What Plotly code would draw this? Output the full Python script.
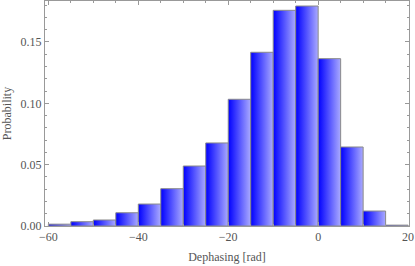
import plotly.graph_objects as go

bin_edges = [-60, -55, -50, -45, -40, -35, -30, -25, -20, -15, -10, -5, 0, 5, 10, 15, 20]
probabilities = [0.0015, 0.0035, 0.0049, 0.0108, 0.0179, 0.0304, 0.0489, 0.0677,
                 0.1033, 0.1416, 0.1758, 0.1793, 0.1364, 0.0644, 0.0122, 0.0007]
x_ticks = [-60, -40, -20, 0, 20]
x_tick_labels = ["\u221260", "\u221240", "\u221220", "0", "20"]
y_ticks = [0.0, 0.05, 0.10, 0.15]
y_tick_labels = ["0.00", "0.05", "0.10", "0.15"]

fig = go.Figure()
for i, p in enumerate(probabilities):
    x0, x1 = bin_edges[i], bin_edges[i + 1]
    fig.add_trace(go.Scatter(
        x=[x0, x0, x1, x1, x0], y=[0, p, p, 0, 0],
        mode="lines", fill="toself",
        line=dict(color="#8a8a8a", width=1),
        fillgradient=dict(type="horizontal",
                          colorscale=[[0, "#0000ff"], [1, "#aaaaff"]]),
        hoverinfo="skip", showlegend=False,
    ))

font_family = "Liberation Serif, Times New Roman, serif"
axis_common = dict(
    showgrid=False, zeroline=False, showline=True, linecolor="#999999", linewidth=1,
    mirror="allticks", ticks="inside", ticklen=4, tickcolor="#999999",
    tickfont=dict(family=font_family, size=12, color="#555555"),
    automargin=False,
)
fig.update_xaxes(
    range=[-60.75, 20.2], tickvals=x_ticks, ticktext=x_tick_labels,
    minor=dict(dtick=5, ticks="inside", ticklen=2, tickcolor="#999999"),
    title=dict(text="Dephasing [rad]", font=dict(family=font_family, size=12, color="#555555"),
               standoff=9),
    **axis_common,
)
fig.update_yaxes(
    range=[0, 0.1834], tickvals=y_ticks, ticktext=y_tick_labels,
    minor=dict(dtick=0.01, ticks="inside", ticklen=2, tickcolor="#999999"),
    title=dict(text="Probability", font=dict(family=font_family, size=12, color="#555555"),
               standoff=6),
    **axis_common,
)
fig.update_layout(
    width=415, height=266,
    margin=dict(l=45, r=6, t=1, b=40),
    paper_bgcolor="white", plot_bgcolor="white",
    font=dict(family=font_family),
)
fig.write_html("out.html", config={"displayModeBar": False},
               post_script="document.body.style.margin='0';document.body.style.overflow='hidden';")
